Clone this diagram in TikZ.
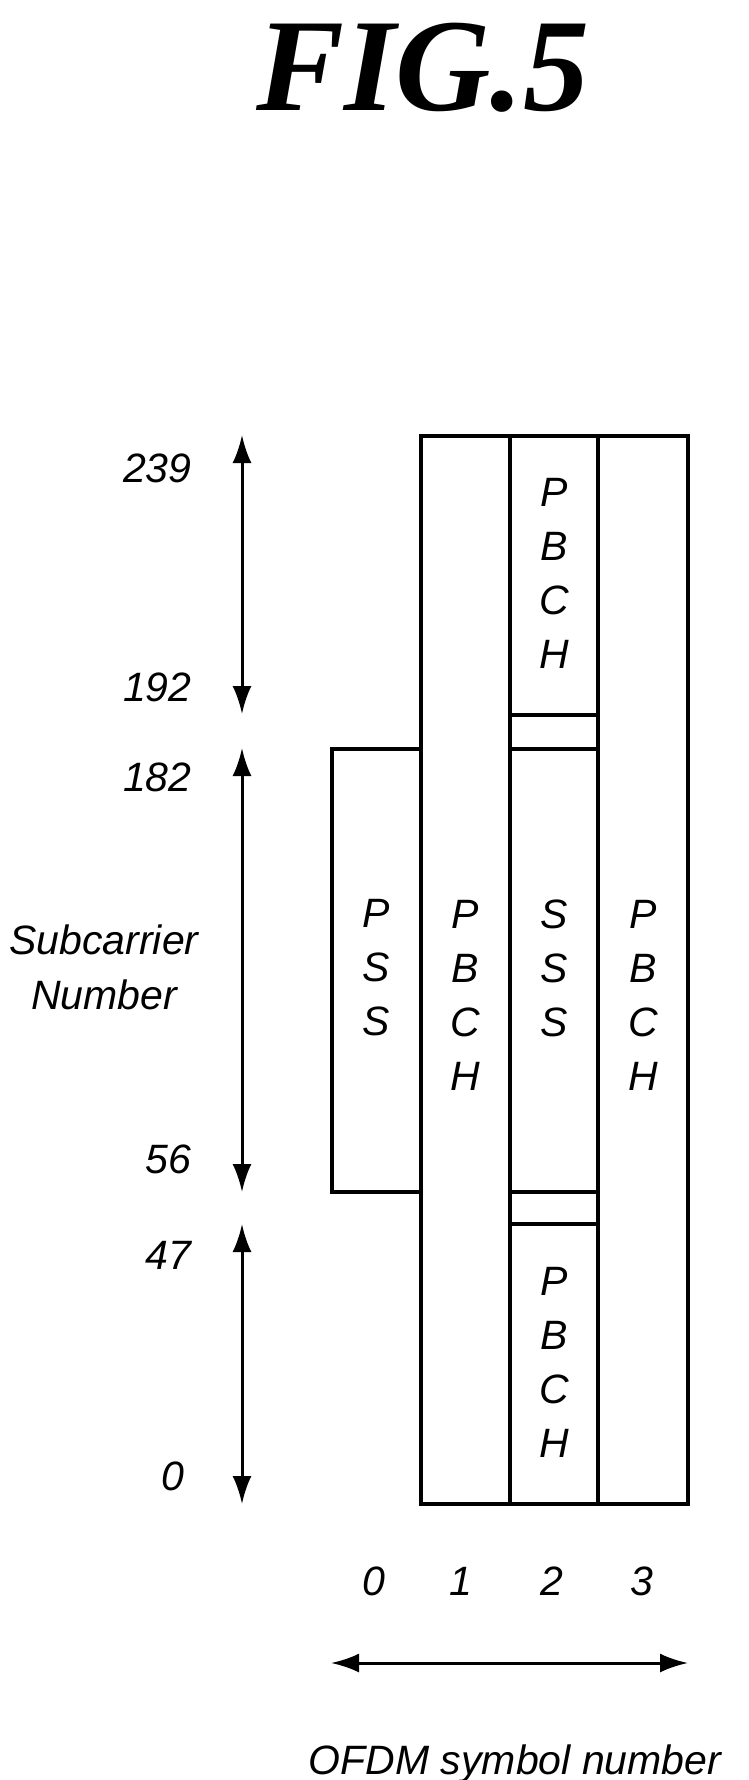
\documentclass[tikz,border=0pt]{standalone}
\usepackage{fontspec}
\setmainfont{Liberation Sans}
\newfontfamily\titlefont{Liberation Serif}
\usetikzlibrary{arrows.meta}
\begin{document}
\begin{tikzpicture}[x=1pt,y=-1pt,
  box/.style={line width=3.5pt},
  lab/.style={font=\fontsize{41}{41}\selectfont\itshape},
  col/.style={font=\fontsize{41}{54}\selectfont\itshape,align=center},
  dar/.style={line width=3pt,{Latex[length=28pt,width=19pt]}-{Latex[length=28pt,width=19pt]}}]
\useasboundingbox (0,0) rectangle (748,1780);
\node[font=\fontsize{132}{132}\selectfont\titlefont\bfseries\itshape] (title) at (423,68) {FIG.5};
% boxes
\draw[box] (421,436) rectangle (510,1504);
\draw[box] (510,436) rectangle (598,1504);
\draw[box] (598,436) rectangle (688,1504);
\draw[box] (421,749) -- (332,749) -- (332,1192) -- (421,1192);
\draw[box] (510,715) -- (598,715);
\draw[box] (510,749) -- (598,749);
\draw[box] (510,1192) -- (598,1192);
\draw[box] (510,1224) -- (598,1224);
% texts
\node[col] (t1) at (554,573) {P\\B\\C\\H};
\node[col] (t2) at (554,968) {S\\S\\S};
\node[col] (t3) at (554,1362) {P\\B\\C\\H};
\node[col] (t4) at (376,968) {P\\S\\S};
\node[col] (t5) at (465,995) {P\\B\\C\\H};
\node[col] (t6) at (643,995) {P\\B\\C\\H};
% arrows
\coordinate (a1) at (242,435); \coordinate (a2) at (242,714);
\coordinate (b1) at (242,748); \coordinate (b2) at (242,1192);
\coordinate (c1) at (242,1224); \coordinate (c2) at (242,1504);
\draw[dar] (a1) -- (a2);
\draw[dar] (b1) -- (b2);
\draw[dar] (c1) -- (c2);
\coordinate (d1) at (331,1663); \coordinate (d2) at (688,1663);
\draw[dar] (d1) -- (d2);
% labels
\node[lab,anchor=east] (l239) at (195,468) {239};
\node[lab,anchor=east] (l192) at (195,687) {192};
\node[lab,anchor=east] (l182) at (195,777) {182};
\node[lab,anchor=east] (l56) at (195,1159) {56};
\node[lab,anchor=east] (l47) at (195,1255) {47};
\node[lab,anchor=east] (l0) at (188,1476) {0};
\node[lab,align=center,font=\fontsize{41}{55}\selectfont\itshape] (sn) at (104,967) {Subcarrier\\Number};
\node[lab] (n0) at (374,1581) {0};
\node[lab] (n1) at (461,1581) {1};
\node[lab] (n2) at (552,1581) {2};
\node[lab] (n3) at (642,1581) {3};
\node[lab] (ofdm) at (515,1764) {OFDM symbol number};
\end{tikzpicture}
\end{document}
